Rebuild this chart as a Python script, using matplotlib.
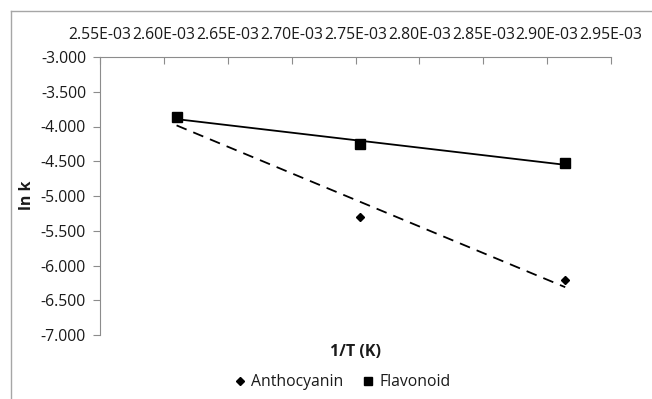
import numpy as np
import matplotlib
matplotlib.use("Agg")
import matplotlib.pyplot as plt
from matplotlib.lines import Line2D
from matplotlib.ticker import FuncFormatter, MultipleLocator

plt.rcParams['font.family'] = ['Open Sans', 'DejaVu Sans']

# Data
inv_T = [1/383.15, 1/363.15, 1/343.15]
anthocyanin = [-3.87, -5.30, -6.21]
flavonoid = [-3.87, -4.25, -4.53]
series_names = ["Anthocyanin", "Flavonoid"]
x_label = "1/T (K)"
y_label = "ln k"

fig = plt.figure(figsize=(6.52, 3.99), dpi=100)
ax = fig.add_axes([100/652, 1-335/399, 511/652, 278/399])

gray = '#8c8c8c'
txt = '#1a1a1a'
x = np.array(inv_T)
xs = np.array([x.min(), x.max()])

# Anthocyanin
ax.plot(x, anthocyanin, linestyle='none', marker='D', color='black', markersize=4.5, label=series_names[0], zorder=3)
pa = np.polyfit(x, anthocyanin, 1)
ax.plot(xs, np.polyval(pa, xs), color='black', linestyle=(0, (6, 4)), linewidth=1.3, zorder=2)

# Flavonoid
ax.plot(x, flavonoid, linestyle='none', marker='s', color='black', markersize=6.5, label=series_names[1], zorder=4)
pf = np.polyfit(x, flavonoid, 1)
ax.plot(xs, np.polyval(pf, xs), color='black', linestyle='-', linewidth=1.3, zorder=2)

ax.set_xlim(2.55e-3, 2.95e-3)
ax.set_ylim(-7.0, -3.0)
ax.xaxis.set_major_locator(MultipleLocator(0.05e-3))
ax.yaxis.set_major_locator(MultipleLocator(0.5))
ax.xaxis.set_major_formatter(FuncFormatter(lambda v, p: ("%.2E" % v)))
ax.yaxis.set_major_formatter(FuncFormatter(lambda v, p: ("%.3f" % v)))

for s in ['right', 'bottom']:
    ax.spines[s].set_visible(False)
ax.spines['top'].set_color(gray)
ax.spines['left'].set_color(gray)
ax.xaxis.tick_top()
ax.tick_params(axis='x', direction='in', length=5, color=gray, labelsize=11.3, pad=10, labelcolor=txt)
ax.tick_params(axis='y', direction='out', length=5, color=gray, labelsize=11.3, pad=5, labelcolor=txt)

fig.text(27/652, 1-(335+56)/2/399, y_label, rotation=90, ha='center', va='center', fontsize=11.5, fontweight='bold', color=txt)
fig.text(356/652, 1-352/399, x_label, ha='center', va='center', fontsize=11.5, fontweight='bold', color=txt)

leg = fig.legend(loc='center', bbox_to_anchor=(343/652, 1-382/399), ncol=2, frameon=False,
                 fontsize=11.3, handlelength=0.6, handletextpad=0.4, columnspacing=1.3, markerscale=0.85)
for t in leg.get_texts():
    t.set_color(txt)

border = '#a6a6a6'
fig.add_artist(Line2D([11/652, 1.0], [1-11/399, 1-11/399], transform=fig.transFigure, color=border, linewidth=1.0))
fig.add_artist(Line2D([11/652, 11/652], [0.0, 1-11/399], transform=fig.transFigure, color=border, linewidth=1.0))

fig.savefig("out.png", dpi=100)
